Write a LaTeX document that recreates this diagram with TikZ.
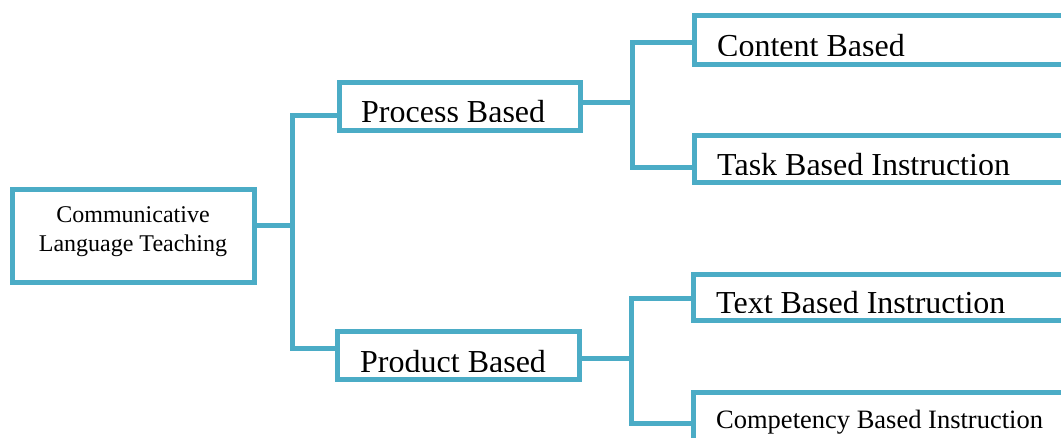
\documentclass[tikz,border=0pt]{standalone}
\usepackage{fontspec}
\setmainfont{Liberation Serif}
\definecolor{framecol}{RGB}{75,172,198}
\tikzset{
  box/.style={draw=framecol, line width=5pt, rectangle, inner sep=0pt, fill=white},
  conn/.style={draw=framecol, line width=5pt},
  biglabel/.style={font=\fontsize{32}{38}\selectfont, inner sep=0pt, anchor=base west},
  smalllabel/.style={font=\fontsize{26.5}{31}\selectfont, inner sep=0pt, anchor=base west},
}
\begin{document}
\begin{tikzpicture}[x=1pt,y=-1pt]
\path[use as bounding box, clip] (0,0) rectangle (1061,437);
\fill[white] (0,0) rectangle (1061,437);

% root
\node[box, minimum width=242pt, minimum height=93pt] (clt) at (133.5,236) {};
\node[inner sep=0pt, anchor=north, align=center,
      font=\fontsize{24}{29}\selectfont] (cltlabel) at (133,206.5)
      {Communicative\\Language Teaching};

% second level
\node[box, minimum width=241pt, minimum height=48pt] (proc) at (460,106.5) {};
\node[box, minimum width=242pt, minimum height=48pt] (prod) at (458.5,355.5) {};

% third level (running off the right edge)
\node[box, minimum width=386pt, minimum height=49pt] (cont) at (887.5,40) {};
\node[box, minimum width=386pt, minimum height=47pt] (task) at (887.5,159) {};
\node[box, minimum width=387pt, minimum height=46pt] (txt)  at (887,297.5) {};
\node[box, minimum width=387pt, minimum height=67.5pt] (comp) at (887,426.25) {};

% labels, cut off slightly at the bottom
\begin{scope}
  \clip (340,85) rectangle (578,121);
  \node[biglabel] (proclabel) at (361,122) {Process Based};
\end{scope}
\begin{scope}
  \clip (340,334) rectangle (577,371);
  \node[biglabel] (prodlabel) at (360,372) {Product Based};
\end{scope}
\begin{scope}
  \clip (700,18) rectangle (1061,55);
  \node[biglabel] (contlabel) at (717,56) {Content Based};
\end{scope}
\begin{scope}
  \clip (700,138) rectangle (1061,174);
  \node[biglabel] (tasklabel) at (717,175) {Task Based Instruction};
\end{scope}
\begin{scope}
  \clip (700,277) rectangle (1061,312);
  \node[biglabel] (txtlabel) at (716,313) {Text Based Instruction};
\end{scope}
\node[smalllabel] (complabel) at (716,428) {Competency Based Instruction};

% connectors
\coordinate (ja) at (292,225);
\coordinate (jb) at (632,102);
\coordinate (jc) at (631,358);

\draw[conn] ([yshift=11pt]clt.east) -- (ja);
\draw[conn] ([yshift=-8.5pt]proc.west) -| (ja) |- ([yshift=7.5pt]prod.west);

\draw[conn] ([yshift=4.5pt]proc.east) -- (jb);
\draw[conn] ([yshift=-2pt]cont.west) -| (jb) |- ([yshift=-8pt]task.west);

\draw[conn] ([yshift=-2.5pt]prod.east) -- (jc);
\draw[conn] ([yshift=-0.5pt]txt.west) -| (jc) |- ([yshift=3.25pt]comp.west);
\end{tikzpicture}
\end{document}
